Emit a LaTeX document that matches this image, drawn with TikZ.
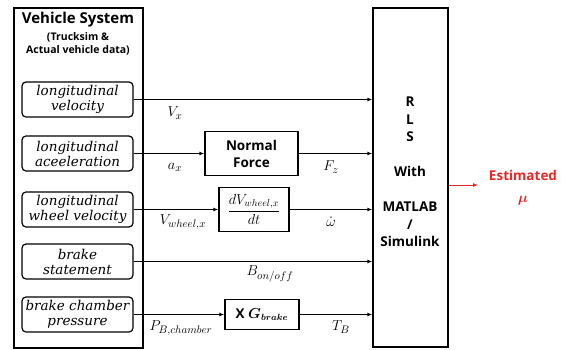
\documentclass[tikz,border=0pt]{standalone}
\usepackage{amsmath,bm}
\usepackage{fontspec}
\setsansfont{Open Sans}
\newfontfamily\boxfont{DejaVu Serif}
\usetikzlibrary{arrows.meta,positioning,calc}
\definecolor{estred}{RGB}{236,38,36}
\tikzset{
  keret/.style={draw,line width=1.4pt,inner sep=0pt},
  src/.style={draw,line width=1.2pt,rounded corners=4pt,minimum width=111pt,minimum height=35pt,
    inner sep=1pt,align=center,font=\boxfont\itshape\fontsize{13.5}{15}\selectfont},
  blk/.style={draw,line width=1.4pt,inner sep=1pt,align=center,font=\sffamily\bfseries\fontsize{13.5}{17}\selectfont},
  nyil/.style={line width=1.1pt,-{Latex[length=5pt,width=4pt]}},
  jel/.style={inner sep=1pt,font=\fontsize{15.5}{17}\selectfont},
}

\begin{document}
\begin{tikzpicture}[x=1pt,y=-1pt]
  \useasboundingbox (0,0) rectangle (565,349);
  % vehicle side
  \node[keret,minimum width=129pt,minimum height=340pt] (veh) at (78.5,178) {};
  \node[font=\sffamily\bfseries\fontsize{15}{17}\selectfont] (vtitle) at (78,20) {Vehicle System};
  \node[align=center,font=\sffamily\bfseries\fontsize{10.5}{13}\selectfont] (vsub) at (78,44) {(Trucksim \&\\Actual vehicle data)};
  \node[src] (s1) at (77.5,99.5) {longitudinal\\velocity};
  \node[src] (s2) at (77.5,153.5) {longitudinal\\aceeleration};
  \node[src] (s3) at (77.5,209.5) {longitudinal\\wheel velocity};
  \node[src] (s4) at (77.5,261.5) {brake\\statement};
  \node[src] (s5) at (77.5,314.5) {brake chamber\\pressure};
  % estimator
  \node[keret,minimum width=75pt,minimum height=339pt] (rls) at (410.5,177.5) {};
  \node[align=center,font=\sffamily\bfseries\fontsize{13.5}{17.5}\selectfont] (rlstxt) at (410,172)
    {R\\L\\S\\[17.5pt]With\\[17.5pt]MATLAB\\/\\Simulink};
  % blocks
  \node[blk,minimum width=93pt,minimum height=44pt] (nf) at (251.5,153.5) {Normal\\Force};
  \node[blk,minimum width=70pt,minimum height=44pt,font=\fontsize{14}{16}\selectfont] (dv) at (254,209.5)
    {$\dfrac{dV_{wheel,x}}{dt}$};
  \node[blk,minimum width=74pt,minimum height=30pt] (gb) at (262,314.5) {X $\bm{G_{brake}}$};
  % signals
  \draw[nyil] (s1.east) -- (s1.east -| rls.west);
  \draw[nyil] (s2.east) -- (nf.west);
  \draw[nyil] (nf.east) -- (nf.east -| rls.west);
  \draw[nyil] (s3.east) -- (dv.west);
  \draw[nyil] (dv.east) -- (dv.east -| rls.west);
  \draw[nyil] (s4.east) -- (s4.east -| rls.west);
  \draw[nyil] (s5.east) -- (gb.west);
  \draw[nyil] (gb.east) -- (gb.east -| rls.west);
  \node[jel] (lvx) at (175,113) {$V_x$};
  \node[jel] (lax) at (175,167) {$a_x$};
  \node[jel] (lfz) at (331,167) {$F_z$};
  \node[jel] (lvw) at (183,222) {$V_{wheel,x}$};
  \node[jel] (lom) at (331,222) {$\dot{\omega}$};
  \node[jel] (lbo) at (270,274) {$B_{on/off}$};
  \node[jel] (lpb) at (181,328) {$P_{B,chamber}$};
  \node[jel] (ltb) at (341,327) {$T_B$};
  % output
  \coordinate (est) at (478,185);
  \draw[estred,line width=1pt,-{Latex[length=5pt,width=4pt]}] ([yshift=-7.5pt]rls.east) -- (est);
  \node[estred,align=center,font=\sffamily\bfseries\fontsize{13.5}{22}\selectfont] (estl) at (523,188)
    {Estimated\\$\bm{\mu}$};
\end{tikzpicture}
\end{document}
